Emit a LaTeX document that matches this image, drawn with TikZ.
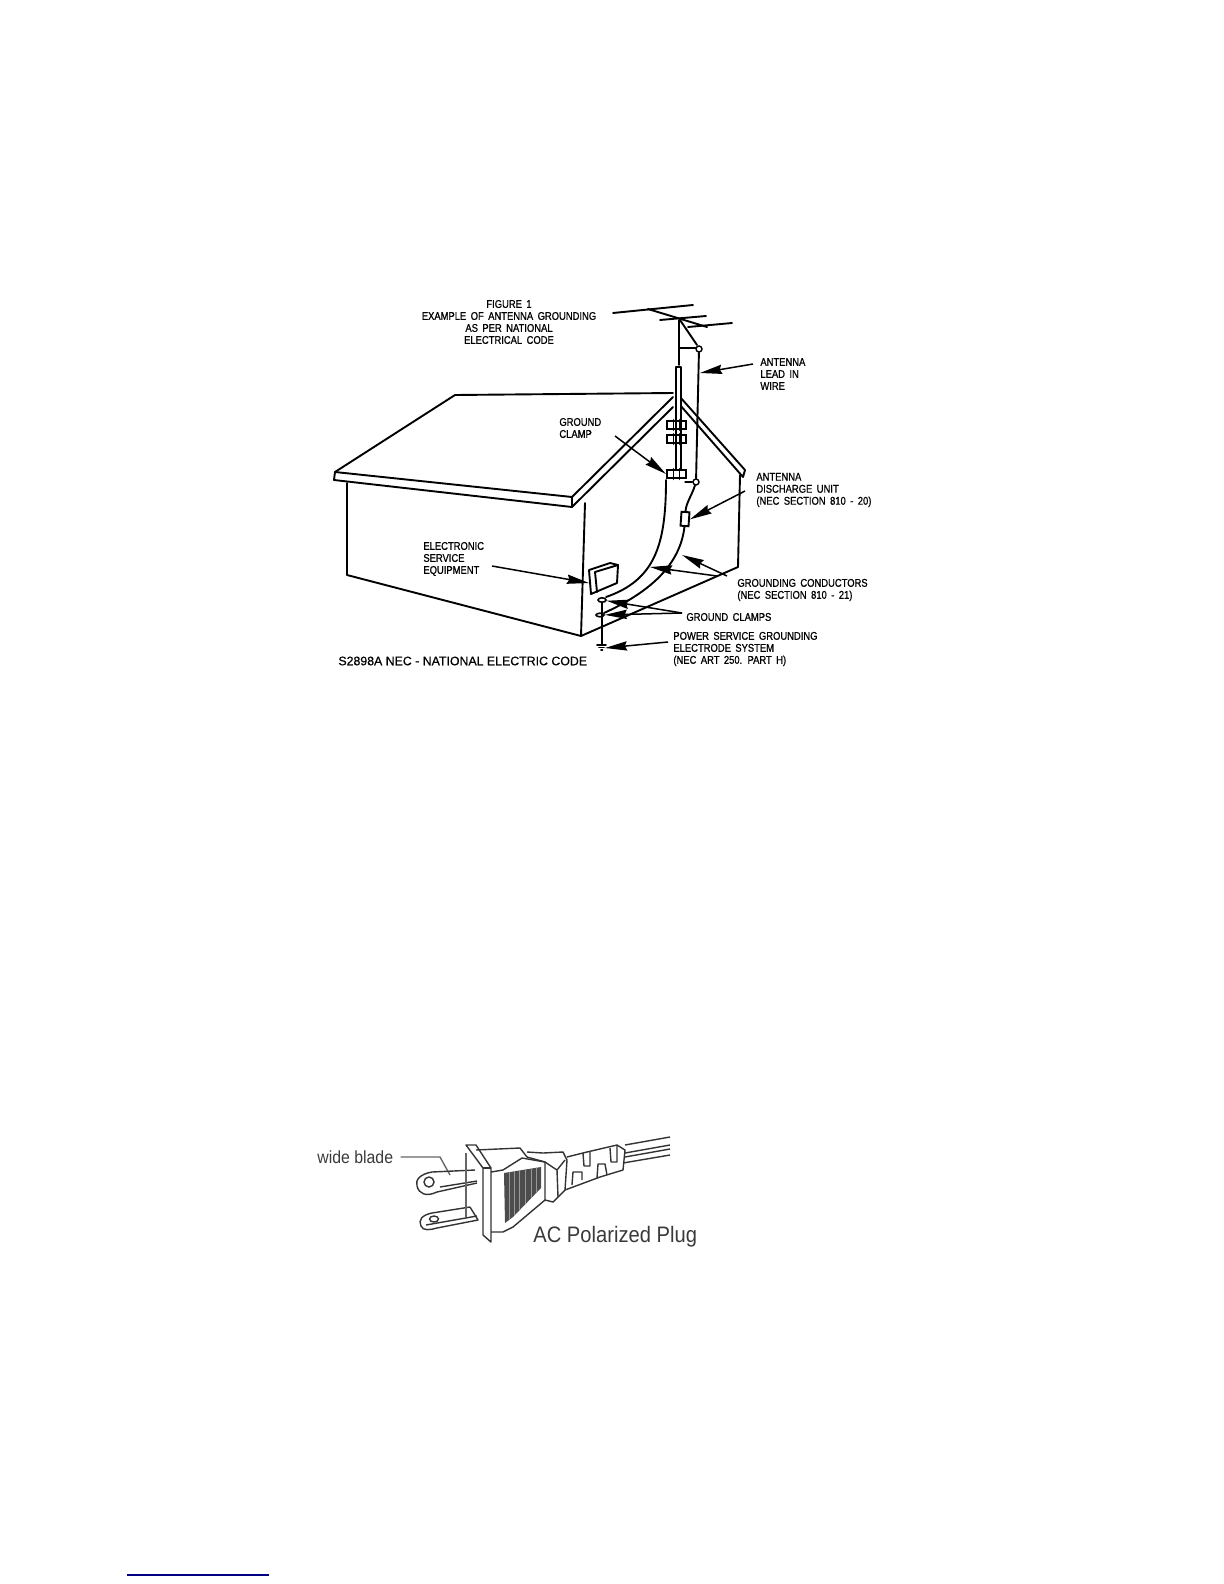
\documentclass[tikz,border=0pt]{standalone}
\usepackage{fontspec}
\usepackage{xcolor}
\usetikzlibrary{arrows.meta,calc,shapes.geometric}
\newfontfamily\labelfont{Liberation Sans}[FakeStretch=0.84,FakeBold=0.8,WordSpace=1.7]
\newfontfamily\codefont{Liberation Sans}[FakeBold=0.4]
\newfontfamily\plugfont{Liberation Sans}[FakeStretch=0.9]
\definecolor{linkblue}{HTML}{000080}
\definecolor{pluggray}{HTML}{3A3A3A}
\tikzset{
  >=Stealth,
  wire/.style={line width=0.95pt,line join=round,line cap=round},
  thinwire/.style={line width=0.6pt,line cap=round},
  callout/.style={line width=0.75pt,-{Stealth[length=11pt,width=4.6pt,inset=1pt]}},
  caption/.style={font=\labelfont\fontsize{5.6}{6}\selectfont,inner sep=0pt,anchor=west,align=left},
  clampbox/.style={draw,line width=0.95pt,minimum width=9.5pt,minimum height=4.2pt,inner sep=0pt},
  insulator/.style={draw,circle,line width=0.7pt,fill=white,minimum size=3pt,inner sep=0pt},
  plugline/.style={line width=0.7pt,color=black!80,line join=round},
  plugtext/.style={font=\plugfont,text=pluggray,inner sep=0pt,anchor=west},
}
\begin{document}
\begin{tikzpicture}[x=0.5pt,y=-0.5pt]
\useasboundingbox (0,0) rectangle (1224,1584);

\node[caption,anchor=center,align=center] (figtitle) at (509,322)
  {FIGURE 1\\EXAMPLE OF ANTENNA GROUNDING\\AS PER NATIONAL\\ELECTRICAL CODE};
\node[caption] (clamplabel) at (559,428) {GROUND\\CLAMP};
\node[caption] (leadlabel) at (760,374) {ANTENNA\\LEAD IN\\WIRE};
\node[caption] (unitlabel) at (756,490) {ANTENNA\\DISCHARGE UNIT\\(NEC SECTION 810 - 20)};
\node[caption] (equiplabel) at (423,559) {ELECTRONIC\\SERVICE\\EQUIPMENT};
\node[caption] (conductlabel) at (737,590) {GROUNDING CONDUCTORS\\(NEC SECTION 810 - 21)};
\node[caption] (gclamplabel) at (686,617) {GROUND CLAMPS};
\node[caption] (powerlabel) at (673,649) {POWER SERVICE GROUNDING\\ELECTRODE SYSTEM\\(NEC ART 250. PART H)};
\node[inner sep=0pt,anchor=west,font=\codefont\fontsize{6.17}{7}\selectfont] (codelabel) at (338,661)
  {S2898A NEC - NATIONAL ELECTRIC CODE};

\draw[wire] (455,395) -- (673,393);
\draw[wire] (335,472) -- (455,395);
\draw[wire] (335,472) -- (334,480) -- (572,507) -- (572,497) -- cycle;
\draw[wire] (572,497) -- (673,397);
\draw[wire] (572,507) -- (673,407);
\draw[wire] (680,397) -- (745,470) -- (743,477) -- (680,405);
\draw[wire] (347,483) -- (347,575) -- (581,636) -- (738,567) -- (740,475);
\draw[wire] (585,503) -- (581,636);

\draw[wire] (613,313) -- (693,305);
\draw[wire] (660,320) -- (706,316);
\draw[wire] (688,327) -- (732,323);
\draw[wire] (648,309) -- (707,327);
\draw[wire] (679,320) -- (679,365);
\draw[wire] (680,320) -- (697,345);
\draw[thinwire] (680,348) -- (696,348);
\draw[wire,fill=white] (676,367) -- (681,367) -- (681,470) -- (676,470) -- cycle;

\foreach \nm/\cy in {clampa/425,clampb/439,clampc/474} {
  \node[clampbox] (\nm) at (676.5,\cy) {};
  \draw[wire] ([xshift=-1.5pt]\nm.north) -- ([xshift=-1.5pt]\nm.south);
  \draw[wire] ([xshift=1.5pt]\nm.north) -- ([xshift=1.5pt]\nm.south);
}

\node[insulator] (topins) at (699,349) {};
\node[insulator] (lowins) at (696,482) {};
\node[draw,line width=0.95pt,minimum width=4pt,minimum height=7pt,inner sep=0pt,rotate=-4] (unit) at (685,519) {};
\draw[wire] (topins) -- (lowins);
\draw[thinwire] (685,482) -- (lowins);
\draw[wire] (lowins) .. controls (692,495) and (686,503) .. (unit.north);

\draw[wire] (666,480) .. controls (666,545) and (655,580) .. (606,597);
\draw[wire] (unit.south) .. controls (680,565) and (650,592) .. (604,613);

\draw[wire] (589,570) -- (591,594) -- (617,583) -- (618,565) -- (610,563) -- cycle;
\draw[wire] (595,572) -- (597,592);
\draw[wire] (595,572) -- (618,565);
\coordinate (equipfront) at (589,583);

\node[draw,ellipse,line width=0.8pt,minimum width=4pt,minimum height=2.2pt,inner sep=0pt,fill=white] (gclampa) at (602,600) {};
\node[draw,ellipse,line width=0.8pt,minimum width=4pt,minimum height=1.8pt,inner sep=0pt,fill=white] (gclampb) at (600,615) {};
\coordinate (groundpt) at (602,645);
\draw[thinwire] (gclampa) -- (groundpt);
\draw[wire] (597,645) -- (606,645);
\draw[wire] (599,647.5) -- (604,647.5);
\draw[wire] (601,650) -- (602.5,650);

\coordinate (clamptail) at (615,436);
\coordinate (leadtail) at (753,364);
\coordinate (leadhead) at (700,373);
\coordinate (unittail) at (745,491);
\coordinate (equiptail) at (492,566);
\coordinate (condtaila) at (717,576);
\coordinate (condheada) at (650,567);
\coordinate (condtailb) at (727,576);
\coordinate (condheadb) at (682,555);
\coordinate (gclamptail) at (682,613);
\coordinate (powertail) at (668,642);
\coordinate (powerhead) at (605,648);

\draw[callout] (clamptail) -- (clampc.west);
\draw[callout] (leadtail) -- (leadhead);
\draw[callout] (unittail) -- (unit.east);
\draw[callout] (equiptail) -- (equipfront);
\draw[callout] (condtaila) -- (condheada);
\draw[callout] (condtailb) -- (condheadb);
\draw[callout] (gclamptail) -- (gclampa);
\draw[callout] (gclamptail) -- (gclampb);
\draw[callout] (powertail) -- (powerhead);

\node[plugtext,font=\plugfont\fontsize{8.8}{9}\selectfont] (bladelabel) at (317,1157) {wide blade};
\node[plugtext,font=\plugfont\fontsize{11.2}{12}\selectfont] (pluglabel) at (533,1237) {AC Polarized Plug};

\node[draw=black!80,circle,line width=0.7pt,minimum size=5pt,inner sep=0pt] (tophole) at (429,1182) {};
\node[draw=black!80,ellipse,line width=0.7pt,minimum width=4.5pt,minimum height=3pt,inner sep=0pt] (lowhole) at (434,1219) {};
\coordinate (bladetop) at (450,1175);
\draw[plugline,black!60] (bladelabel.east) ++(7,0) -- (440,1157) -- (bladetop);

\draw[plugline] (475,1170) -- (432,1172) .. controls (420,1174) and (415,1180) .. (417,1186) .. controls (419,1194) and (426,1197) .. (437,1192) -- (477,1183);
\draw[plugline] (440,1187) -- (477,1181);
\draw[plugline] (470,1207) -- (432,1213) .. controls (422,1215) and (418,1220) .. (421,1226) .. controls (423,1231) and (430,1230) .. (437,1228) -- (478,1220) -- (470,1207);
\draw[plugline] (426,1225) -- (477,1216);
\draw[plugline,black!60] (466,1153) -- (466,1217);

\draw[plugline] (466,1145) -- (476,1145) -- (491,1168) -- (491,1242) -- (483,1235) -- (483,1168) -- cycle;
\draw[plugline] (483,1168) -- (491,1168);
\draw[plugline] (476,1150) -- (520,1148) -- (527,1157) -- (545,1162) -- (545,1200) -- (513,1227) -- (503,1232) -- (491,1232);
\draw[plugline] (491,1172) -- (503,1170) -- (522,1158) -- (545,1162);
\begin{scope}
\clip (504,1173) -- (541,1167) -- (541,1188) -- (513,1217) -- (505,1223) -- cycle;
\fill[black!70] (500,1160) rectangle (545,1225);
\foreach \hx in {509,514,519,525,531,536} {
  \draw[black!40,line width=0.3pt] (\hx,1165) -- (\hx,1225);
}
\end{scope}

\draw[plugline] (527,1152) -- (543,1153) -- (563,1152) -- (567,1160) -- (565,1190) -- (553,1202) -- (545,1200);
\draw[plugline] (545,1162) -- (557,1170) -- (565,1160);
\draw[plugline] (557,1170) -- (558,1197);
\draw[plugline] (567,1157) -- (587,1152) -- (617,1145) -- (625,1150) -- (623,1170) -- (600,1177) -- (565,1190);
\draw[plugline] (583,1153) -- (584,1166) -- (590,1166) -- (590,1151);
\draw[plugline] (610,1148) -- (611,1162) -- (617,1162) -- (617,1146);
\draw[plugline] (572,1185) -- (573,1172) -- (582,1172) -- (582,1180);
\draw[plugline] (597,1178) -- (598,1164) -- (605,1164) -- (607,1175);

\draw[plugline] (625,1145) -- (670,1137);
\draw[plugline] (625,1153) -- (670,1145);
\draw[plugline] (625,1157) -- (670,1149);
\draw[plugline] (623,1163) -- (670,1155);

\node[inner sep=0pt,minimum width=71pt,minimum height=0.7pt,fill=linkblue] (linkbar) at (198,1575) {};
\end{tikzpicture}
\end{document}
